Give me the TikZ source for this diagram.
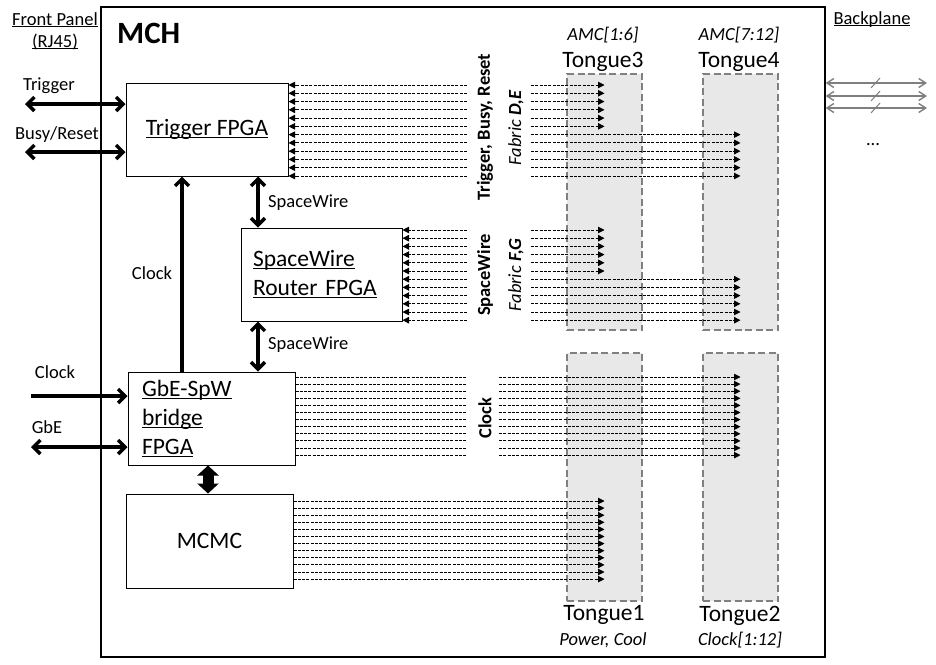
\documentclass[tikz,border=0pt]{standalone}
\usepackage{fontspec}
\setmainfont{Carlito}
\usetikzlibrary{arrows.meta, positioning, calc}
\definecolor{grisLengua}{HTML}{E8E8E8}
\definecolor{bordeLengua}{HTML}{808080}
\definecolor{grisBus}{HTML}{7F7F7F}
\newcommand{\fntBig}{\fontsize{23.5}{29}\selectfont}
\newcommand{\fntSmall}{\fontsize{18.5}{22}\selectfont}
\newcommand{\fntMch}{\fontsize{31}{36}\selectfont\bfseries}
\newcommand{\uln}[1]{\leavevmode\begingroup\setbox0=\hbox{#1}\rlap{\rule[-0.1em]{\wd0}{0.055em}}\box0\endgroup}

\begin{document}
\begin{tikzpicture}[x=1pt, y=-1pt,
        fpga/.style={draw, line width=1pt, inner sep=0pt, font=\fntBig},
        tongue/.style={draw=bordeLengua, fill=grisLengua, line width=2.6pt,
            dash pattern=on 7pt off 3.5pt, minimum width=75pt, inner sep=0pt},
        lbl/.style={font=\fntSmall, anchor=base, inner sep=0pt},
        vlbl/.style={font=\fntSmall\bfseries, rotate=90, inner sep=0pt},
        link/.style={line width=3.4pt, >={Straight Barb[length=7pt,width=14pt]}},
        blk/.style={line width=11pt, {Triangle[length=10pt,width=21pt]}-{Triangle[length=10pt,width=21pt]}},
        sig/.style={line width=0.9pt, dash pattern=on 3pt off 1.3pt, >={Triangle[length=6.5pt,width=6.5pt]}},
        bus/.style={draw=grisBus, line width=1.4pt,
            {Straight Barb[length=7pt,width=9pt]}-{Straight Barb[length=7pt,width=9pt]}}
    ]
    \useasboundingbox (0,0) rectangle (936,664);

    \node[draw, line width=1.2pt, minimum width=724pt, minimum height=650pt] (mch) at (463,332) {};
    \node[font=\fntMch, anchor=base west, inner sep=0pt] (mchLbl) at (117,43) {MCH};

    \node[tongue, minimum height=256pt] (t3) at (604.5,202) {};
    \node[tongue, minimum height=256pt] (t4) at (740.5,202) {};
    \node[tongue, minimum height=248pt] (t1) at (604.5,477) {};
    \node[tongue, minimum height=248pt] (t2) at (740.5,477) {};

    \node[fpga, minimum width=162pt, minimum height=93pt] (trig) at (207,129.5) {\uln{Trigger FPGA}};
    \node[fpga, minimum width=161pt, minimum height=93pt, text width=137pt, align=left] (router)
        at (321.5,274.5) {\uln{SpaceWire}\\\uln{Router FPGA}};
    \node[fpga, minimum width=167pt, minimum height=93pt, text width=139pt, align=left] (bridge)
        at (211.5,418.5) {\uln{GbE-SpW}\\\uln{bridge}\\\uln{FPGA}};
    \node[fpga, minimum width=167pt, minimum height=94pt] (mcmc) at (209.5,541) {MCMC};

    \node[lbl] (fpLbl) at (55,25) {\uln{Front Panel}};
    \node[lbl] (rjLbl) at (55,47) {\uln{(RJ45)}};
    \node[lbl] (bpLbl) at (872,24) {\uln{Backplane}};
    \node[lbl] (dots) at (873,145) {...};

    \node[lbl] (trgLbl) at (49,90) {Trigger};
    \node[lbl] (busyLbl) at (57,139) {Busy/Reset};
    \node[lbl] (clkInLbl) at (55,378) {Clock};
    \node[lbl] (gbeLbl) at (47,433) {GbE};
    \node[lbl] (clkLbl) at (152,279) {Clock};
    \node[lbl, anchor=base west] (swLblA) at (268,207) {SpaceWire};
    \node[lbl, anchor=base west] (swLblB) at (268,349) {SpaceWire};

    \node[lbl, font=\fntSmall\itshape] (amcA) at (603,40) {AMC[1:6]};
    \node[lbl, font=\fntBig] (t3Lbl) at (603,67) {Tongue3};
    \node[lbl, font=\fntSmall\itshape] (amcB) at (739,40) {AMC[7:12]};
    \node[lbl, font=\fntBig] (t4Lbl) at (739,67) {Tongue4};
    \node[lbl, font=\fntBig] (t1Lbl) at (604,620) {Tongue1};
    \node[lbl, font=\fntSmall\itshape] (pwrLbl) at (603,645) {Power, Cool};
    \node[lbl, font=\fntBig] (t2Lbl) at (740,621) {Tongue2};
    \node[lbl, font=\fntSmall\itshape] (clkBLbl) at (740,645) {Clock[1:12]};

    \node[vlbl] (lblTrig) at (485,127) {Trigger, Busy, Reset};
    \node[vlbl, font=\fntSmall\itshape] (lblDE) at (516,128) {Fabric \textbf{D,E}};
    \node[vlbl] (lblSw) at (485,275) {SpaceWire};
    \node[vlbl, font=\fntSmall\itshape] (lblFG) at (516,275) {Fabric \textbf{F,G}};
    \node[vlbl] (lblClk) at (485,418) {Clock};

    \coordinate (gapL) at (467,0);
    \coordinate (gapR) at (531,0);
    \coordinate (gapC) at (499,0);
    \coordinate (trigIn) at (25,104);
    \coordinate (busyIn) at (25,152);
    \coordinate (clkIn) at (31,396);
    \coordinate (gbeIn) at (31,447);
    \coordinate (clkX) at (182,0);
    \coordinate (swX) at (258,0);
    \coordinate (blkX) at (208,0);

    \draw[link,<->] (trigIn) -- (trig.west |- trigIn);
    \draw[link,<->] (busyIn) -- (trig.west |- busyIn);
    \draw[link,->] (clkIn) -- (bridge.west |- clkIn);
    \draw[link,<->] (gbeIn) -- (bridge.west |- gbeIn);
    \draw[link,->] (bridge.north -| clkX) -- (trig.south -| clkX);
    \draw[link,<->] (trig.south -| swX) -- (router.north -| swX);
    \draw[link,<->] (router.south -| swX) -- (bridge.north -| swX);
    \draw[blk] (bridge.south -| blkX) -- (mcmc.north -| blkX);

    \foreach \i [evaluate=\i as \y using 85+\i*8.27] in {0,...,11}
        \draw[sig,->] (gapL |- 0,\y) -- (trig.east |- 0,\y);
    \foreach \i [evaluate=\i as \y using 85+\i*8.27] in {0,...,5}
        \draw[sig,->] (gapR |- 0,\y) -- (t3 |- 0,\y);
    \foreach \i [evaluate=\i as \y using 85+\i*8.27] in {6,...,11}
        \draw[sig,->] (gapR |- 0,\y) -- (t4 |- 0,\y);

    \foreach \i [evaluate=\i as \y using 230+\i*8.2] in {0,...,11}
        \draw[sig,->] (gapL |- 0,\y) -- (router.east |- 0,\y);
    \foreach \i [evaluate=\i as \y using 230+\i*8.2] in {0,...,5}
        \draw[sig,->] (gapR |- 0,\y) -- (t3 |- 0,\y);
    \foreach \i [evaluate=\i as \y using 230+\i*8.2] in {6,...,11}
        \draw[sig,->] (gapR |- 0,\y) -- (t4 |- 0,\y);

    \foreach \i [evaluate=\i as \y using 377+\i*7.1] in {0,...,11}{
        \draw[sig] (bridge.east |- 0,\y) -- (gapL |- 0,\y);
        \draw[sig,->] (gapC |- 0,\y) -- (t2 |- 0,\y);
    }
    \foreach \i [evaluate=\i as \y using 501+\i*7.1] in {0,...,11}
        \draw[sig,->] (mcmc.east |- 0,\y) -- (t1 |- 0,\y);

    \foreach \y [count=\k] in {83,96,108}{
        \coordinate (bp\k) at (927,\y);
        \draw[bus] (mch.east |- bp\k) -- (bp\k);
        \draw[grisBus, line width=1pt] (871,\y+5) -- (880,\y-5);
    }
\end{tikzpicture}
\end{document}
